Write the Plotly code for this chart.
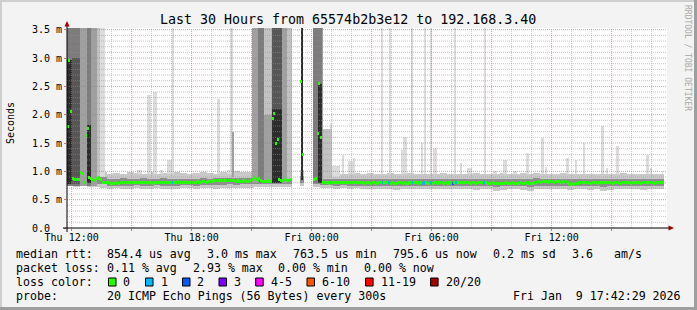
import plotly.graph_objects as go
import pandas as pd

# ---------------------------------------------------------------- data
T0 = pd.Timestamp("2026-01-08 11:46")      # left edge of the time axis
SPAN_MIN = 1800                             # 30 hours
MED_STEP = 5                                # minutes per median sample
SMOKE_STEP = 20                             # minutes per smoke sample
Y_MAX = 3.53                                # ms

# median rtt (ms), one value per 5 minutes, None = no data
median_ms = [
    1.80, 2.95, 2.05, 0.88, 0.85, 0.85, 0.85, 0.86, 0.98, 0.97, 0.81, 1.64,
    1.76, 0.89, 0.88, 0.85, 0.84, 0.87, 0.88, 0.89, 0.86, 0.80, 0.80, 0.81,
    0.80, 0.80, 0.79, 0.79, 0.79, 0.80, 0.79, 0.79, 0.80, 0.80, 0.81, 0.80,
    0.80, 0.80, 0.81, 0.80, 0.80, 0.80, 0.81, 0.81, 0.81, 0.80, 0.81, 0.81,
    0.80, 0.80, 0.80, 0.79, 0.80, 0.80, 0.80, 0.81, 0.80, 0.80, 0.80, 0.80,
    0.80, 0.80, 0.81, 0.81, 0.81, 0.81, 0.82, 0.81, 0.81, 0.81, 0.80, 0.81,
    0.81, 0.81, 0.81, 0.80, 0.81, 0.81, 0.82, 0.81, 0.81, 0.82, 0.82, 0.81,
    0.82, 0.82, 0.82, 0.82, 0.83, 0.83, 0.84, 0.83, 0.84, 0.84, 0.83, 0.84,
    0.84, 0.83, 0.84, 0.83, 0.83, 0.82, 0.83, 0.82, 0.82, 0.82, 0.83, 0.82,
    0.82, 0.82, 0.83, 0.86, 0.90, 0.85, 0.84, 0.88, 0.84, 0.82, 0.82, 0.82,
    0.82, 0.83, 0.82, 1.94, 2.02, 1.49, 1.57, 0.86, 0.84, 0.84, 0.85, 0.84,
    0.84, 0.84, 0.85, None, None, None, None, None, 2.58, 1.29, None, None,
    None, None, None, None, 0.86, 0.87, 1.66, 2.55, 1.60, 0.81, 0.80, 0.81,
    0.80, 0.79, 0.80, 0.80, 0.81, 0.80, 0.81, 0.81, 0.80, 0.81, 0.80, 0.80,
    0.81, 0.80, 0.80, 0.81, 0.80, 0.80, 0.80, 0.81, 0.80, 0.80, 0.79, 0.80,
    0.80, 0.80, 0.79, 0.80, 0.80, 0.79, 0.80, 0.80, 0.80, 0.80, 0.80, 0.80,
    0.80, 0.80, 0.79, 0.80, 0.79, 0.79, 0.80, 0.80, 0.80, 0.79, 0.80, 0.79,
    0.79, 0.80, 0.80, 0.80, 0.80, 0.80, 0.80, 0.79, 0.80, 0.79, 0.80, 0.80,
    0.79, 0.79, 0.80, 0.79, 0.80, 0.80, 0.79, 0.80, 0.80, 0.80, 0.79, 0.80,
    0.79, 0.80, 0.80, 0.79, 0.80, 0.80, 0.81, 0.80, 0.80, 0.80, 0.80, 0.80,
    0.80, 0.80, 0.79, 0.80, 0.80, 0.79, 0.80, 0.80, 0.80, 0.80, 0.80, 0.80,
    0.79, 0.79, 0.79, 0.80, 0.79, 0.79, 0.78, 0.79, 0.79, 0.79, 0.79, 0.80,
    0.79, 0.79, 0.79, 0.80, 0.79, 0.79, 0.79, 0.79, 0.80, 0.79, 0.79, 0.80,
    0.79, 0.80, 0.79, 0.79, 0.80, 0.81, 0.82, 0.82, 0.81, 0.82, 0.82, 0.82,
    0.81, 0.82, 0.82, 0.82, 0.81, 0.82, 0.82, 0.82, 0.81, 0.82, 0.81, 0.82,
    0.80, 0.78, 0.77, 0.78, 0.77, 0.78, 0.79, 0.80, 0.80, 0.80, 0.80, 0.80,
    0.80, 0.80, 0.79, 0.80, 0.80, 0.80, 0.79, 0.80, 0.80, 0.80, 0.80, 0.80,
    0.80, 0.80, 0.80, 0.79, 0.80, 0.80, 0.80, 0.80, 0.79, 0.80, 0.80, 0.80,
    0.80, 0.80, 0.79, 0.80, 0.80, 0.80, 0.80, 0.80, 0.79, 0.80, 0.80, 0.80,
    0.80, 0.80, 0.80, 0.80, 0.79, 0.80, 0.80, 0.80, 0.80, 0.80, None, None,
]

# lost pings per sample (sample index -> lost pings), all others 0
loss_index = [63, 189, 193, 207, 213, 214, 218, 231, 233, 250]
loss_count = [1, 1, 1, 1, 1, 1, 1, 2, 1, 1]

# smoke band (ms), one value per 20 minutes
smoke_min = [
    0.74, 0.73, 0.74, 0.73, 0.72, 0.71, 0.69, 0.70, 0.68, 0.69, 0.70, 0.69, 0.68, 0.70, 0.69, 0.68, 0.69, 0.70,
    0.70, 0.69, 0.70, 0.70, 0.69, 0.70, 0.71, 0.70, 0.71, 0.71, 0.72, 0.72, 0.73, 0.72, 0.72, 0.72, 0.74, 0.74,
    0.74, 0.72, 0.70, 0.70, 0.69, 0.70, 0.69, 0.70, 0.69, 0.68, 0.69, 0.68, 0.69, 0.67, 0.68, 0.69, 0.68, 0.69,
    0.68, 0.69, 0.68, 0.68, 0.69, 0.68, 0.68, 0.67, 0.69, 0.68, 0.65, 0.67, 0.68, 0.68, 0.67, 0.66, 0.68, 0.68,
    0.69, 0.68, 0.69, 0.67, 0.68, 0.69, 0.67, 0.68, 0.66, 0.67, 0.68, 0.69, 0.68, 0.68, 0.67, 0.68, 0.68, 0.68,
]
smoke_q1 = [
    0.79, 0.79, 0.79, 0.78, 0.78, 0.77, 0.75, 0.75, 0.75, 0.75, 0.76, 0.75, 0.75, 0.76, 0.75, 0.75, 0.75, 0.76,
    0.76, 0.75, 0.76, 0.76, 0.76, 0.76, 0.77, 0.76, 0.77, 0.77, 0.77, 0.78, 0.78, 0.78, 0.78, 0.78, 0.79, 0.79,
    0.79, 0.77, 0.76, 0.76, 0.75, 0.76, 0.75, 0.75, 0.75, 0.74, 0.75, 0.74, 0.75, 0.74, 0.74, 0.75, 0.74, 0.75,
    0.74, 0.75, 0.74, 0.74, 0.75, 0.74, 0.74, 0.74, 0.75, 0.74, 0.73, 0.74, 0.74, 0.74, 0.74, 0.73, 0.74, 0.74,
    0.75, 0.74, 0.75, 0.74, 0.74, 0.75, 0.74, 0.74, 0.73, 0.74, 0.74, 0.75, 0.74, 0.74, 0.74, 0.74, 0.74, 0.74,
]
smoke_q3 = [
    0.95, 0.94, 0.93, 0.93, 0.92, 0.90, 0.87, 0.87, 0.88, 0.87, 0.87, 0.88, 0.87, 0.87, 0.88, 0.87, 0.87, 0.87,
    0.87, 0.87, 0.88, 0.87, 0.88, 0.88, 0.89, 0.89, 0.89, 0.89, 0.90, 0.90, 0.90, 0.90, 0.90, 0.90, 0.91, 0.91,
    0.90, 0.89, 0.87, 0.87, 0.87, 0.86, 0.86, 0.87, 0.86, 0.86, 0.87, 0.86, 0.86, 0.87, 0.86, 0.86, 0.86, 0.87,
    0.86, 0.86, 0.87, 0.86, 0.86, 0.86, 0.86, 0.86, 0.86, 0.86, 0.86, 0.86, 0.86, 0.86, 0.87, 0.87, 0.88, 0.87,
    0.87, 0.87, 0.87, 0.86, 0.86, 0.86, 0.86, 0.86, 0.86, 0.86, 0.86, 0.86, 0.86, 0.86, 0.86, 0.86, 0.86, 0.86,
]
smoke_max = [
    1.05, 1.04, 1.02, 1.02, 1.00, 0.98, 0.96, 0.97, 0.96, 0.98, 0.97, 0.96, 0.99, 0.96, 0.97, 0.98, 0.98, 0.97,
    0.96, 0.97, 0.98, 0.97, 0.96, 0.98, 0.99, 1.00, 0.99, 0.99, 1.00, 1.01, 1.00, 1.00, 1.02, 1.01, 1.02, 1.02,
    1.00, 0.99, 0.97, 0.96, 0.97, 0.95, 0.96, 0.97, 0.96, 0.97, 0.96, 0.95, 0.97, 0.96, 0.95, 0.97, 0.96, 0.96,
    0.95, 0.96, 0.97, 0.95, 0.96, 0.95, 0.96, 0.97, 0.96, 0.95, 0.96, 0.97, 0.95, 0.96, 0.97, 0.96, 0.97, 0.96,
    0.96, 0.95, 0.97, 0.96, 0.95, 0.96, 0.95, 0.96, 0.96, 0.95, 0.96, 0.97, 0.96, 0.95, 0.96, 0.95, 0.96, 0.96,
]

# bursts of slow pings: start/end (minutes after T0), low/high (ms), density level 1 (few) .. 6 (most)
col_start = [0, 0, 14, 14, 39, 59, 59, 71, 89, 100,
             209, 241, 258, 279, 299, 314, 449, 479, 489, 494,
             554, 574, 591, 591, 614, 614, 644, 659, 702, 739, 753, 753, 764, 769, 794,
             789, 824, 843, 858, 944, 967, 1004, 1009, 1034, 1064, 1071, 1089, 1098, 1162,
             1179, 1199, 1251, 1278, 1309, 1339, 1377, 1422, 1434, 1497, 1524, 1548, 1602,
             1619, 1647, 1737, 1749, 1785]
col_end = [14, 14, 39, 39, 59, 71, 71, 89, 100, 113,
           224, 252, 270, 288, 314, 321, 459, 489, 499, 501,
           574, 591, 614, 614, 644, 644, 659, 674, 709, 753, 764, 764, 769, 794, 819,
           795, 831, 858, 864, 949, 973, 1009, 1019, 1039, 1069, 1077, 1094, 1109, 1167,
           1184, 1214, 1256, 1289, 1319, 1349, 1385, 1432, 1440, 1505, 1530, 1554, 1611,
           1622, 1657, 1747, 1755, 1788]
col_low = [0.74, 0.78, 0.74, 0.78, 0.74, 0.74, 0.80, 0.74, 0.85, 0.90,
           0.95, 0.95, 0.95, 0.95, 0.95, 0.95, 0.95, 0.95, 0.95, 0.90,
           0.80, 0.80, 0.80, 0.80, 0.80, 0.80, 0.80, 0.85, 0.85, 0.80, 0.80, 0.80, 0.80, 0.90, 0.90,
           0.95, 0.95, 0.95, 0.95, 0.95, 0.95, 0.95, 0.95, 0.95, 0.95, 0.95, 0.95, 0.95, 0.95,
           0.95, 0.95, 0.95, 0.95, 0.95, 0.95, 0.95, 0.95, 0.95, 0.95, 0.95, 0.95, 0.95,
           0.95, 0.95, 0.95, 0.95, 0.95]
col_high = [4.0, 2.96, 4.0, 3.0, 4.0, 4.0, 1.82, 4.0, 4.0, 4.0,
            1.02, 2.35, 2.40, 1.03, 1.20, 4.0, 2.28, 1.02, 4.0, 1.69,
            4.0, 4.0, 4.0, 2.0, 4.0, 2.1, 4.0, 4.0, 4.0, 4.0, 4.0, 2.55, 4.0, 1.75, 1.10,
            1.85, 1.29, 1.18, 1.23, 4.0, 4.0, 1.38, 1.60, 4.0, 1.50, 4.0, 4.0, 1.42, 4.0,
            1.15, 1.06, 4.0, 1.00, 1.20, 1.01, 1.33, 1.58, 1.08, 1.23, 1.20, 1.50, 1.80,
            1.06, 1.45, 1.29, 1.06, 1.00]
col_level = [4, 6, 4, 5, 3, 4, 6, 3, 2, 1,
             1, 1, 1, 1, 1, 1, 1, 1, 1, 3,
             3, 4, 2, 3, 5, 6, 3, 2, 6, 4, 4, 6, 3, 2, 1,
             1, 1, 1, 1, 1, 1, 1, 1, 1, 1, 1, 1, 1, 1,
             1, 1, 1, 1, 1, 1, 1, 1, 1, 1, 1, 1, 1,
             1, 1, 1, 1, 1]

# axis labels
x_tick_hours = [0.2333, 3.2333, 6.2333, 9.2333, 12.2333, 15.2333, 18.2333, 21.2333, 24.2333, 27.2333]
x_tick_labels = ["Thu 12:00", "", "Thu 18:00", "", "Fri 00:00", "", "Fri 06:00", "", "Fri 12:00", ""]
y_tick_vals = [0.0, 0.5, 1.0, 1.5, 2.0, 2.5, 3.0, 3.5]
y_tick_labels = ["0.0  ", "0.5 m", "1.0 m", "1.5 m", "2.0 m", "2.5 m", "3.0 m", "3.5 m"]

loss_legend_labels = ["0", "1", "2", "3", "4-5", "6-10", "11-19", "20/20"]
loss_legend_colors = ["#26ff00", "#00b8ff", "#0059ff", "#7e00ff", "#ff00ff", "#ff5500", "#ff0000", "#a10000"]

stats_rtt = ["median rtt:", "854.4 us avg", "3.0 ms max", "763.5 us min", "795.6 us now", "0.2 ms sd", "3.6", "am/s"]
stats_loss = ["packet loss:", "0.11 % avg", "2.93 % max", "0.00 % min", "0.00 % now"]
probe_text = ["probe:", "20 ICMP Echo Pings (56 Bytes) every 300s", "Fri Jan  9 17:42:29 2026"]
title_text = "Last 30 Hours from 65574b2b3e12 to 192.168.3.40"

# ---------------------------------------------------------------- layout constants (pixels)
W, H = 697, 310
PL, PR, PT, PB = 67, 667, 28, 228
MONO = "DejaVu Sans Mono"
LEVEL_COLORS = {1: "#dcdcdc", 2: "#c2c2c2", 3: "#a0a0a0", 4: "#7c7c7c", 5: "#565656", 6: "#2c2c2c"}


def t(minutes):
    return T0 + pd.Timedelta(minutes=minutes)


def px(x):
    return (x - PL) / (PR - PL)


def py(y):
    return (PB - y) / (PB - PT)


def loss_color(n):
    if n == 0:
        return loss_legend_colors[0]
    if n <= 3:
        return loss_legend_colors[n]
    if n <= 5:
        return loss_legend_colors[4]
    if n <= 10:
        return loss_legend_colors[5]
    if n <= 19:
        return loss_legend_colors[6]
    return loss_legend_colors[7]


fig = go.Figure()
MS = 60_000

# smoke band
sx, ob, oh, ib, ih = [], [], [], [], []
for j, m in enumerate(median_ms):
    if m is None:
        continue
    k = j * MED_STEP // SMOKE_STEP
    sx.append(t(j * MED_STEP + MED_STEP / 2))
    ob.append(smoke_min[k]); oh.append(smoke_max[k] - smoke_min[k])
    ib.append(smoke_q1[k]); ih.append(smoke_q3[k] - smoke_q1[k])
fig.add_trace(go.Bar(x=sx, y=oh, base=ob, width=[MED_STEP * MS] * len(sx),
                     marker=dict(color="#c9c9c9", line=dict(width=0)), hoverinfo="skip"))
fig.add_trace(go.Bar(x=sx, y=ih, base=ib, width=[MED_STEP * MS] * len(sx),
                     marker=dict(color="#8e8e8e", line=dict(width=0)), hoverinfo="skip"))

# bursts (lighter first so darker cores stay on top)
order = sorted(range(len(col_start)), key=lambda i: col_level[i])
fig.add_trace(go.Bar(
    x=[t((col_start[i] + col_end[i]) / 2) for i in order],
    y=[col_high[i] - col_low[i] for i in order],
    base=[col_low[i] for i in order],
    width=[(col_end[i] - col_start[i]) * MS for i in order],
    marker=dict(color=[LEVEL_COLORS[col_level[i]] for i in order], line=dict(width=0)),
    hoverinfo="skip"))

# median, coloured by loss
loss_of = dict(zip(loss_index, loss_count))
thick = 3 * Y_MAX / (PB - PT)
mx, mb, mc = [], [], []
for j, m in enumerate(median_ms):
    if m is None:
        continue
    mx.append(t(j * MED_STEP + MED_STEP / 2))
    mb.append(m - thick / 2)
    mc.append(loss_color(loss_of.get(j, 0)))
fig.add_trace(go.Bar(x=mx, y=[thick] * len(mx), base=mb, width=[MED_STEP * MS] * len(mx),
                     marker=dict(color=mc, line=dict(width=0)), hoverinfo="skip"))

# ---------------------------------------------------------------- grid on top (as rrdtool)
shapes = []
minor_c = "rgba(150,150,150,0.55)"
major_c = "rgba(235,90,90,0.65)"
for h in range(0, 31):
    tt = pd.Timestamp("2026-01-08 12:00") + pd.Timedelta(hours=h)
    if tt >= t(SPAN_MIN):
        break
    major = (tt.hour % 3 == 0)
    shapes.append(dict(type="line", xref="x", yref="paper", x0=tt, x1=tt, y0=0, y1=1, layer="above",
                       line=dict(color=major_c if major else minor_c, width=1, dash="1px,1px")))
for i in range(1, 36):
    v = i / 10
    major = (i % 5 == 0)
    shapes.append(dict(type="line", xref="paper", yref="y", x0=0, x1=1, y0=v, y1=v, layer="above",
                       line=dict(color=major_c if major else minor_c, width=1, dash="1px,1px")))
# axes with arrows
shapes.append(dict(type="line", xref="paper", yref="paper", x0=px(63), x1=px(672), y0=0, y1=0,
                   layer="above", line=dict(color="black", width=1)))
shapes.append(dict(type="line", xref="paper", yref="paper", x0=0, x1=0, y0=py(232), y1=py(23),
                   layer="above", line=dict(color="black", width=1)))
shapes.append(dict(type="path", xref="paper", yref="paper", layer="above",
                   path=f"M {px(64.5)} {py(26.5)} L {px(67)} {py(21)} L {px(69.5)} {py(26.5)} Z",
                   fillcolor="#a00000", line=dict(width=0)))
shapes.append(dict(type="path", xref="paper", yref="paper", layer="above",
                   path=f"M {px(668.5)} {py(225.5)} L {px(674)} {py(228)} L {px(668.5)} {py(230.5)} Z",
                   fillcolor="#a00000", line=dict(width=0)))
# 3D border
shapes.append(dict(type="rect", xref="paper", yref="paper", x0=px(0), x1=px(697), y0=py(0), y1=py(2),
                   line=dict(width=0), fillcolor="#cfcfcf", layer="above"))
shapes.append(dict(type="rect", xref="paper", yref="paper", x0=px(0), x1=px(2), y0=py(0), y1=py(310),
                   line=dict(width=0), fillcolor="#cfcfcf", layer="above"))
shapes.append(dict(type="rect", xref="paper", yref="paper", x0=px(0), x1=px(697), y0=py(307), y1=py(310),
                   line=dict(width=0), fillcolor="#9e9e9e", layer="above"))
shapes.append(dict(type="rect", xref="paper", yref="paper", x0=px(694), x1=px(697), y0=py(0), y1=py(310),
                   line=dict(width=0), fillcolor="#9e9e9e", layer="above"))

# legend colour boxes
box_x = [108.5, 145.5, 182.5, 219.0, 255.7, 307.0, 365.6, 430.6]
for bx, c in zip(box_x, loss_legend_colors):
    shapes.append(dict(type="rect", xref="paper", yref="paper", x0=px(bx), x1=px(bx + 7.5),
                       y0=py(278), y1=py(286), fillcolor=c, line=dict(color="black", width=1), layer="above"))

# ---------------------------------------------------------------- text
ann = []


def text(s, x, y, size=11.6, anchor="left", color="black", angle=0, family=MONO):
    ann.append(dict(text=s.replace(" ", "\u00a0"), x=px(x), y=py(y), xref="paper", yref="paper",
                    xanchor=anchor, yanchor="middle", showarrow=False, textangle=angle,
                    font=dict(family=family, size=size, color=color), borderpad=0, borderwidth=0))


text(title_text, 347.5, 19.3, size=13.3, anchor="center")
text("Seconds", 10, 123, size=10, anchor="center", angle=-90)
text("RRDTOOL / TOBI OETIKER", 688, 58, size=8, anchor="center", angle=90, color="#a8a8a8")

rtt_x = [16, 107.3, 207.3, 293.3, 393.3, 493.3, 571.7, 614.3]
for s, x in zip(stats_rtt, rtt_x):
    text(s, x, 254.3)
loss_x = [16, 107.3, 192.7, 278.0, 364.0]
for s, x in zip(stats_loss, loss_x):
    text(s, x, 268.3)
text("loss color:", 16, 282.3)
lab_x = [123.3, 160.7, 197.3, 234.3, 270.7, 322.3, 380.7, 445.7]
for s, x in zip(loss_legend_labels, lab_x):
    text(s, x, 282.3)
for s, x in zip(probe_text, [16, 107.3, 513.3]):
    text(s, x, 296)

fig.update_layout(
    width=W, height=H, margin=dict(l=PL, r=W - PR, t=PT, b=H - PB),
    paper_bgcolor="#f3f3f3", plot_bgcolor="white",
    barmode="overlay", bargap=0, showlegend=False,
    shapes=shapes, annotations=ann,
    xaxis=dict(range=[t(0), t(SPAN_MIN)], showgrid=False, zeroline=False, showline=False,
               tickmode="array", tickvals=[t(h * 60) for h in x_tick_hours], ticktext=x_tick_labels,
               ticks="outside", ticklen=2, tickcolor="#e07070", tickwidth=1, ticklabelstandoff=-2,
               tickfont=dict(family=MONO, size=10, color="black")),
    yaxis=dict(range=[0, Y_MAX], showgrid=False, zeroline=False, showline=False,
               tickmode="array", tickvals=y_tick_vals,
               ticktext=[s.replace(" ", "\u00a0") for s in y_tick_labels],
               ticks="outside", ticklen=2, tickcolor="#e07070", tickwidth=1,
               tickfont=dict(family=MONO, size=10, color="black")),
)

fig.write_html("out.html")
